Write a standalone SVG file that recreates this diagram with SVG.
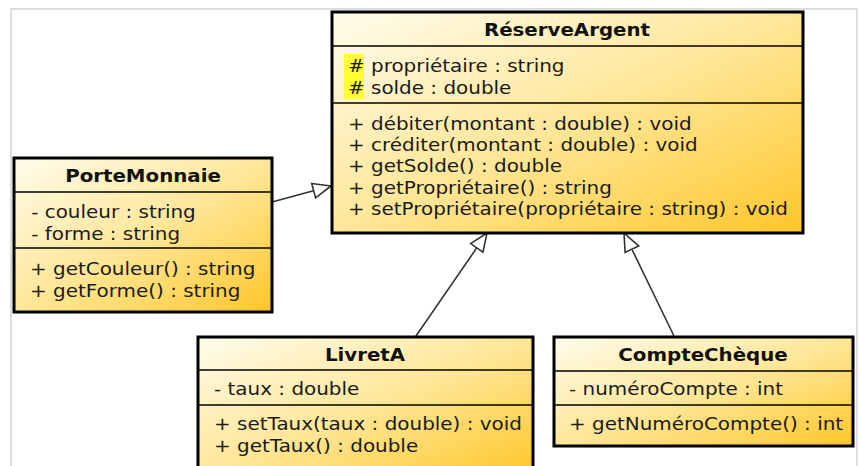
<svg xmlns="http://www.w3.org/2000/svg" width="861" height="466" viewBox="0 0 861 466">
  <defs>
    <linearGradient id="fill" x1="0" y1="0" x2="1" y2="1">
      <stop offset="0" stop-color="#fffcec"/>
      <stop offset="0.5" stop-color="#ffe799"/>
      <stop offset="1" stop-color="#ffc629"/>
    </linearGradient>
    <marker id="inherit" viewBox="0 0 20 18" refX="19" refY="9" markerWidth="20" markerHeight="18" markerUnits="userSpaceOnUse" orient="auto">
      <path d="M1,1.5 L19,9 L1,16.5 Z" fill="#ffffff" stroke="#333333" stroke-width="1.6" stroke-linejoin="miter"/>
    </marker>
  </defs>
  <style>
    .box { fill: url(#fill); stroke: #000000; stroke-width: 3; }
    .sep { stroke: #000000; stroke-width: 1.5; }
    .title { font-family: "DejaVu Sans", Verdana, sans-serif; font-size: 17px; font-weight: bold; fill: #111111; text-anchor: middle; }
    .txt { font-family: "DejaVu Sans", Verdana, sans-serif; font-size: 17px; fill: #1a1a1a; }
    .edge { stroke: #333333; stroke-width: 1.6; fill: none; marker-end: url(#inherit); }
    .prot { fill: #ffff33; }
  </style>

  <rect x="0" y="0" width="861" height="466" fill="#ffffff"/>
  <!-- frame -->
  <rect x="11" y="9" width="846" height="470" fill="none" stroke="#d4d4d4" stroke-width="1.5"/>

  <!-- generalisation connectors -->
  <g id="connectors">
    <line class="edge" x1="272" y1="202" x2="331" y2="186"/>
    <line class="edge" x1="416" y1="336" x2="487" y2="233"/>
    <line class="edge" x1="674" y1="336" x2="624" y2="233"/>
  </g>

  <g id="reserveArgent">
    <rect class="box" x="332" y="12" width="471" height="221"/>
    <line class="sep" x1="332" y1="46" x2="803" y2="46"/>
    <line class="sep" x1="332" y1="103" x2="803" y2="103"/>
    <text class="title" transform="translate(567,36) scale(1.165,1)">RéserveArgent</text>
    <rect class="prot" x="344" y="54" width="20" height="45"/>
    <g transform="translate(348,0) scale(1.174,1) translate(-348,0)">
      <text class="txt" x="348" y="72">#</text>
      <text class="txt" x="367.6" y="72">propriétaire : string</text>
      <text class="txt" x="348" y="94">#</text>
      <text class="txt" x="367.6" y="94">solde : double</text>
      <text class="txt" x="348" y="130">+ débiter(montant : double) : void</text>
      <text class="txt" x="348" y="151">+ créditer(montant : double) : void</text>
      <text class="txt" x="348" y="172">+ getSolde() : double</text>
      <text class="txt" x="348" y="194">+ getPropriétaire() : string</text>
      <text class="txt" x="348" y="215">+ setPropriétaire(propriétaire : string) : void</text>
    </g>
  </g>

  <g id="porteMonnaie">
    <rect class="box" x="14" y="158" width="258" height="154"/>
    <line class="sep" x1="14" y1="192" x2="272" y2="192"/>
    <line class="sep" x1="14" y1="248" x2="272" y2="248"/>
    <text class="title" transform="translate(143,182) scale(1.165,1)">PorteMonnaie</text>
    <g transform="translate(30,0) scale(1.174,1) translate(-30,0)">
      <text class="txt" x="31" y="218">- couleur : string</text>
      <text class="txt" x="31" y="240">- forme : string</text>
      <text class="txt" x="30" y="275">+ getCouleur() : string</text>
      <text class="txt" x="30" y="297">+ getForme() : string</text>
    </g>
  </g>

  <g id="livretA">
    <rect class="box" x="198" y="337" width="335" height="140"/>
    <line class="sep" x1="198" y1="370" x2="533" y2="370"/>
    <line class="sep" x1="198" y1="405" x2="533" y2="405"/>
    <text class="title" transform="translate(365,361) scale(1.165,1)">LivretA</text>
    <g transform="translate(214,0) scale(1.174,1) translate(-214,0)">
      <text class="txt" x="214" y="395">- taux : double</text>
      <text class="txt" x="214" y="430">+ setTaux(taux : double) : void</text>
      <text class="txt" x="214" y="452">+ getTaux() : double</text>
    </g>
  </g>

  <g id="compteCheque">
    <rect class="box" x="554" y="337" width="299" height="109"/>
    <line class="sep" x1="554" y1="371" x2="853" y2="371"/>
    <line class="sep" x1="554" y1="405" x2="853" y2="405"/>
    <text class="title" transform="translate(703,361) scale(1.165,1)">CompteChèque</text>
    <g transform="translate(569,0) scale(1.174,1) translate(-569,0)">
      <text class="txt" x="569" y="395">- numéroCompte : int</text>
      <text class="txt" x="569" y="430">+ getNuméroCompte() : int</text>
    </g>
  </g>
</svg>
